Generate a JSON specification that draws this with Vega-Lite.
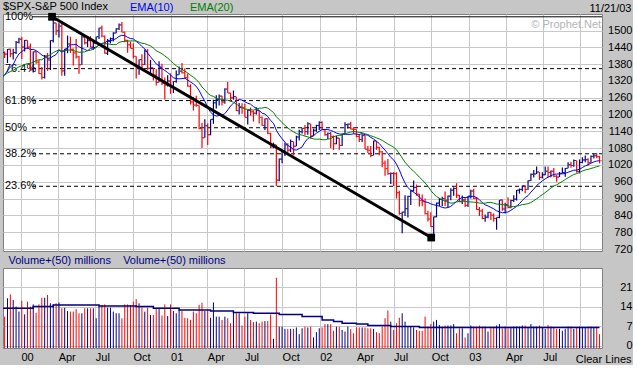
{
"$schema": "https://vega.github.io/schema/vega-lite/v6.json",
"background": "#c6c6c6",
"padding": {"left": 2, "top": 1, "right": 0, "bottom": 0},
"spacing": 1,
"config": {
 "font": "Liberation Sans",
 "view": {"fill": "white", "stroke": "#808080", "strokeWidth": 1},
 "axis": {"gridColor": "#c8c8c8", "gridOpacity": 1, "gridWidth": 1, "labelFont": "Liberation Sans", "labelFontSize": 11, "labelColor": "black", "tickSize": 0, "ticks": false, "domain": false, "titleFont": "Liberation Sans", "titleFontSize": 11, "titleFontWeight": "normal", "titleColor": "black", "labelOverlap": false}
},
"datasets": {
 "fib": [{"lvl":"100%","p":1549},{"lvl":"76.4%","p":1364},{"lvl":"61.8%","p":1250},{"lvl":"50%","p":1153},{"lvl":"38.2%","p":1060},{"lvl":"23.6%","p":944}],
 "trend": [{"d":"2000-03-17","p":1549},{"d":"2002-10-01","p":761}],
 "w": [
{"d":"1999-09-06","o":1357,"h":1361,"l":1332,"c":1351,"v":10,"va":13.5},
{"d":"1999-09-13","o":1351,"h":1352,"l":1326,"c":1336,"v":10,"va":13.5},
{"d":"1999-09-20","o":1336,"h":1336,"l":1263,"c":1277,"v":10,"va":13.5},
{"d":"1999-09-27","o":1277,"h":1301,"l":1268,"c":1282,"v":10,"va":13.5},
{"d":"1999-10-04","o":1282,"h":1336,"l":1282,"c":1336,"v":10,"va":13.5},
{"d":"1999-10-11","o":1336,"h":1337,"l":1247,"c":1247,"v":10,"va":13.5},
{"d":"1999-10-18","o":1247,"h":1301,"l":1233,"c":1301,"v":10,"va":13.5},
{"d":"1999-10-25","o":1301,"h":1362,"l":1297,"c":1362,"v":10,"va":13.5},
{"d":"1999-11-01","o":1362,"h":1385,"l":1355,"c":1370,"v":10,"va":13.5},
{"d":"1999-11-08","o":1370,"h":1397,"l":1360,"c":1397,"v":10,"va":13.5},
{"d":"1999-11-15","o":1397,"h":1427,"l":1390,"c":1422,"v":10,"va":13.5},
{"d":"1999-11-22","o":1422,"h":1425,"l":1402,"c":1416,"v":10.5,"va":13.5},
{"d":"1999-11-29","o":1416,"h":1434,"l":1384,"c":1433,"v":17.1,"va":13.5},
{"d":"1999-12-06","o":1433,"h":1436,"l":1405,"c":1417,"v":18.5,"va":13.5},
{"d":"1999-12-13","o":1417,"h":1435,"l":1397,"c":1421,"v":16.5,"va":13.5},
{"d":"1999-12-20","o":1421,"h":1463,"l":1416,"c":1458,"v":14.1,"va":13.5},
{"d":"1999-12-27","o":1458,"h":1474,"l":1454,"c":1469,"v":12.3,"va":13.5},
{"d":"2000-01-03","o":1469,"h":1478,"l":1398,"c":1441,"v":16.2,"va":13.5},
{"d":"2000-01-10","o":1441,"h":1466,"l":1425,"c":1465,"v":11.3,"va":13.5},
{"d":"2000-01-17","o":1465,"h":1465,"l":1434,"c":1441,"v":15.9,"va":13.5},
{"d":"2000-01-24","o":1441,"h":1454,"l":1356,"c":1360,"v":14.1,"va":13.5},
{"d":"2000-01-31","o":1360,"h":1425,"l":1350,"c":1424,"v":14.9,"va":14.1},
{"d":"2000-02-07","o":1424,"h":1427,"l":1381,"c":1387,"v":11.9,"va":14.1},
{"d":"2000-02-14","o":1387,"h":1395,"l":1345,"c":1346,"v":14.9,"va":14.1},
{"d":"2000-02-21","o":1346,"h":1370,"l":1325,"c":1333,"v":17.3,"va":14.1},
{"d":"2000-02-28","o":1333,"h":1413,"l":1329,"c":1409,"v":17.3,"va":14.1},
{"d":"2000-03-06","o":1409,"h":1420,"l":1356,"c":1395,"v":18.3,"va":14.1},
{"d":"2000-03-13","o":1395,"h":1465,"l":1359,"c":1464,"v":15.3,"va":14.1},
{"d":"2000-03-20","o":1464,"h":1553,"l":1457,"c":1527,"v":14.9,"va":14.7},
{"d":"2000-03-27","o":1527,"h":1528,"l":1484,"c":1499,"v":15.3,"va":14.7},
{"d":"2000-04-03","o":1499,"h":1526,"l":1475,"c":1516,"v":15.6,"va":14.7},
{"d":"2000-04-10","o":1516,"h":1527,"l":1339,"c":1356,"v":13.5,"va":14.7},
{"d":"2000-04-17","o":1356,"h":1435,"l":1339,"c":1434,"v":13.7,"va":14.7},
{"d":"2000-04-24","o":1434,"h":1482,"l":1419,"c":1452,"v":12.5,"va":14.7},
{"d":"2000-05-01","o":1452,"h":1478,"l":1420,"c":1433,"v":12.3,"va":14.7},
{"d":"2000-05-08","o":1433,"h":1436,"l":1375,"c":1420,"v":12.3,"va":14.7},
{"d":"2000-05-15","o":1420,"h":1470,"l":1400,"c":1406,"v":13.2,"va":14.7},
{"d":"2000-05-22","o":1406,"h":1410,"l":1346,"c":1378,"v":11.7,"va":14.7},
{"d":"2000-05-29","o":1378,"h":1483,"l":1378,"c":1477,"v":11.7,"va":14.7},
{"d":"2000-06-05","o":1477,"h":1481,"l":1450,"c":1456,"v":13.5,"va":14.7},
{"d":"2000-06-12","o":1456,"h":1480,"l":1441,"c":1464,"v":13.5,"va":14.7},
{"d":"2000-06-19","o":1464,"h":1480,"l":1440,"c":1441,"v":13.5,"va":14.7},
{"d":"2000-06-26","o":1441,"h":1464,"l":1431,"c":1455,"v":13.5,"va":14.7},
{"d":"2000-07-03","o":1455,"h":1478,"l":1454,"c":1478,"v":9.9,"va":14.7},
{"d":"2000-07-10","o":1478,"h":1510,"l":1470,"c":1509,"v":14.3,"va":14.3},
{"d":"2000-07-17","o":1509,"h":1518,"l":1476,"c":1480,"v":14.7,"va":14.3},
{"d":"2000-07-24","o":1480,"h":1482,"l":1417,"c":1419,"v":14.9,"va":14.3},
{"d":"2000-07-31","o":1419,"h":1470,"l":1413,"c":1462,"v":13.7,"va":14.3},
{"d":"2000-08-07","o":1462,"h":1475,"l":1454,"c":1471,"v":13.7,"va":14.3},
{"d":"2000-08-14","o":1471,"h":1494,"l":1461,"c":1491,"v":12.3,"va":14.3},
{"d":"2000-08-21","o":1491,"h":1508,"l":1490,"c":1506,"v":11.7,"va":14.3},
{"d":"2000-08-28","o":1506,"h":1525,"l":1502,"c":1520,"v":11.7,"va":14.3},
{"d":"2000-09-04","o":1520,"h":1530,"l":1493,"c":1494,"v":9.9,"va":14.3},
{"d":"2000-09-11","o":1494,"h":1496,"l":1458,"c":1465,"v":14.9,"va":14.3},
{"d":"2000-09-18","o":1465,"h":1467,"l":1421,"c":1449,"v":14.9,"va":14.3},
{"d":"2000-09-25","o":1449,"h":1461,"l":1436,"c":1436,"v":14.7,"va":14.3},
{"d":"2000-10-02","o":1436,"h":1455,"l":1400,"c":1408,"v":15.9,"va":14.3},
{"d":"2000-10-09","o":1408,"h":1408,"l":1329,"c":1374,"v":16.8,"va":14.1},
{"d":"2000-10-16","o":1374,"h":1397,"l":1342,"c":1396,"v":15.3,"va":14.1},
{"d":"2000-10-23","o":1396,"h":1415,"l":1361,"c":1379,"v":13.8,"va":14.1},
{"d":"2000-10-30","o":1379,"h":1432,"l":1377,"c":1426,"v":12.3,"va":14.1},
{"d":"2000-11-06","o":1426,"h":1434,"l":1360,"c":1365,"v":13.7,"va":14.1},
{"d":"2000-11-13","o":1365,"h":1395,"l":1345,"c":1367,"v":11.1,"va":14.1},
{"d":"2000-11-20","o":1367,"h":1367,"l":1322,"c":1341,"v":11.1,"va":13.5},
{"d":"2000-11-27","o":1341,"h":1362,"l":1304,"c":1315,"v":13.2,"va":13.5},
{"d":"2000-12-04","o":1315,"h":1390,"l":1315,"c":1369,"v":13.2,"va":13.5},
{"d":"2000-12-11","o":1369,"h":1381,"l":1306,"c":1312,"v":10.9,"va":13.5},
{"d":"2000-12-18","o":1312,"h":1332,"l":1254,"c":1305,"v":14.9,"va":13.5},
{"d":"2000-12-25","o":1305,"h":1340,"l":1300,"c":1320,"v":10.7,"va":13.5},
{"d":"2001-01-01","o":1320,"h":1347,"l":1274,"c":1298,"v":14.9,"va":13.5},
{"d":"2001-01-08","o":1298,"h":1319,"l":1277,"c":1318,"v":12.5,"va":13.5},
{"d":"2001-01-15","o":1318,"h":1357,"l":1314,"c":1342,"v":11.7,"va":13.5},
{"d":"2001-01-22","o":1342,"h":1372,"l":1342,"c":1355,"v":12.9,"va":12.9},
{"d":"2001-01-29","o":1355,"h":1384,"l":1347,"c":1349,"v":12.5,"va":12.9},
{"d":"2001-02-05","o":1349,"h":1365,"l":1327,"c":1332,"v":10.1,"va":12.9},
{"d":"2001-02-12","o":1332,"h":1347,"l":1299,"c":1301,"v":9.9,"va":12.9},
{"d":"2001-02-19","o":1301,"h":1308,"l":1236,"c":1245,"v":9.3,"va":12.9},
{"d":"2001-02-26","o":1245,"h":1263,"l":1214,"c":1234,"v":12.3,"va":12.9},
{"d":"2001-03-05","o":1234,"h":1267,"l":1228,"c":1233,"v":11.7,"va":12.9},
{"d":"2001-03-12","o":1233,"h":1233,"l":1148,"c":1150,"v":14.7,"va":12.9},
{"d":"2001-03-19","o":1150,"h":1171,"l":1081,"c":1117,"v":15.5,"va":12.9},
{"d":"2001-03-26","o":1117,"h":1183,"l":1117,"c":1160,"v":12.5,"va":12.9},
{"d":"2001-04-02","o":1160,"h":1169,"l":1091,"c":1128,"v":12.9,"va":12.9},
{"d":"2001-04-09","o":1128,"h":1183,"l":1126,"c":1183,"v":10.1,"va":12.5},
{"d":"2001-04-16","o":1183,"h":1253,"l":1167,"c":1242,"v":15.6,"va":12.5},
{"d":"2001-04-23","o":1242,"h":1269,"l":1222,"c":1253,"v":10.5,"va":12.5},
{"d":"2001-04-30","o":1253,"h":1272,"l":1232,"c":1266,"v":10.5,"va":12.5},
{"d":"2001-05-07","o":1266,"h":1267,"l":1232,"c":1245,"v":9.3,"va":12.5},
{"d":"2001-05-14","o":1245,"h":1294,"l":1239,"c":1291,"v":10.5,"va":12.5},
{"d":"2001-05-21","o":1291,"h":1316,"l":1276,"c":1277,"v":9.9,"va":12.5},
{"d":"2001-05-28","o":1277,"h":1278,"l":1246,"c":1260,"v":8.1,"va":12.5},
{"d":"2001-06-04","o":1260,"h":1286,"l":1253,"c":1264,"v":12.3,"va":12.0},
{"d":"2001-06-11","o":1264,"h":1264,"l":1213,"c":1214,"v":11.7,"va":12.0},
{"d":"2001-06-18","o":1214,"h":1241,"l":1200,"c":1225,"v":11.7,"va":12.0},
{"d":"2001-06-25","o":1225,"h":1240,"l":1203,"c":1224,"v":7.3,"va":12.0},
{"d":"2001-07-02","o":1224,"h":1239,"l":1190,"c":1190,"v":10.5,"va":12.0},
{"d":"2001-07-09","o":1190,"h":1218,"l":1165,"c":1215,"v":11.7,"va":12.0},
{"d":"2001-07-16","o":1215,"h":1225,"l":1196,"c":1210,"v":9.3,"va":12.0},
{"d":"2001-07-23","o":1210,"h":1215,"l":1175,"c":1205,"v":8.5,"va":11.7},
{"d":"2001-07-30","o":1205,"h":1226,"l":1200,"c":1214,"v":8.7,"va":11.7},
{"d":"2001-08-06","o":1214,"h":1214,"l":1168,"c":1190,"v":8.1,"va":11.7},
{"d":"2001-08-13","o":1190,"h":1193,"l":1160,"c":1161,"v":8.7,"va":11.7},
{"d":"2001-08-20","o":1161,"h":1186,"l":1145,"c":1185,"v":8.9,"va":11.7},
{"d":"2001-08-27","o":1185,"h":1186,"l":1130,"c":1133,"v":8.9,"va":11.7},
{"d":"2001-09-03","o":1133,"h":1135,"l":1080,"c":1085,"v":11.3,"va":11.7},
{"d":"2001-09-10","o":1085,"h":1100,"l":1080,"c":1092,"v":2.5,"va":11.7},
{"d":"2001-09-17","o":1092,"h":1092,"l":945,"c":966,"v":24.5,"va":11.7},
{"d":"2001-09-24","o":966,"h":1043,"l":962,"c":1041,"v":6.9,"va":11.3},
{"d":"2001-10-01","o":1041,"h":1076,"l":1026,"c":1072,"v":6.9,"va":11.3},
{"d":"2001-10-08","o":1072,"h":1099,"l":1052,"c":1092,"v":6.1,"va":11.3},
{"d":"2001-10-15","o":1092,"h":1098,"l":1064,"c":1073,"v":6.1,"va":11.3},
{"d":"2001-10-22","o":1073,"h":1111,"l":1066,"c":1104,"v":6.1,"va":11.3},
{"d":"2001-10-29","o":1104,"h":1104,"l":1054,"c":1087,"v":6.1,"va":11.3},
{"d":"2001-11-05","o":1087,"h":1124,"l":1087,"c":1120,"v":6.6,"va":11.3},
{"d":"2001-11-12","o":1120,"h":1146,"l":1107,"c":1139,"v":4.2,"va":11.3},
{"d":"2001-11-19","o":1139,"h":1152,"l":1132,"c":1151,"v":6.3,"va":10.5},
{"d":"2001-11-26","o":1151,"h":1163,"l":1125,"c":1139,"v":6.9,"va":10.5},
{"d":"2001-12-03","o":1139,"h":1173,"l":1128,"c":1167,"v":6.6,"va":10.5},
{"d":"2001-12-10","o":1167,"h":1167,"l":1114,"c":1123,"v":6.9,"va":10.5},
{"d":"2001-12-17","o":1123,"h":1150,"l":1123,"c":1144,"v":3.0,"va":10.5},
{"d":"2001-12-24","o":1144,"h":1164,"l":1139,"c":1161,"v":4.9,"va":10.5},
{"d":"2001-12-31","o":1161,"h":1176,"l":1145,"c":1172,"v":6.3,"va":10.5},
{"d":"2002-01-07","o":1172,"h":1176,"l":1145,"c":1146,"v":6.6,"va":9.3},
{"d":"2002-01-14","o":1146,"h":1146,"l":1124,"c":1128,"v":7.8,"va":9.3},
{"d":"2002-01-21","o":1128,"h":1136,"l":1113,"c":1133,"v":7.8,"va":9.3},
{"d":"2002-01-28","o":1133,"h":1138,"l":1081,"c":1122,"v":7.8,"va":9.3},
{"d":"2002-02-04","o":1122,"h":1125,"l":1074,"c":1096,"v":5.4,"va":8.7},
{"d":"2002-02-11","o":1096,"h":1124,"l":1094,"c":1116,"v":6.9,"va":8.7},
{"d":"2002-02-18","o":1116,"h":1117,"l":1074,"c":1090,"v":6.9,"va":8.7},
{"d":"2002-02-25","o":1090,"h":1132,"l":1088,"c":1131,"v":5.7,"va":8.1},
{"d":"2002-03-04","o":1131,"h":1173,"l":1130,"c":1164,"v":5.1,"va":8.1},
{"d":"2002-03-11","o":1164,"h":1168,"l":1150,"c":1166,"v":6.9,"va":8.1},
{"d":"2002-03-18","o":1166,"h":1174,"l":1147,"c":1148,"v":6.0,"va":8.1},
{"d":"2002-03-25","o":1148,"h":1155,"l":1131,"c":1147,"v":4.5,"va":8.1},
{"d":"2002-04-01","o":1147,"h":1147,"l":1119,"c":1122,"v":6.6,"va":7.8},
{"d":"2002-04-08","o":1122,"h":1131,"l":1102,"c":1111,"v":6.6,"va":7.8},
{"d":"2002-04-15","o":1111,"h":1130,"l":1102,"c":1125,"v":6.6,"va":7.8},
{"d":"2002-04-22","o":1125,"h":1125,"l":1076,"c":1076,"v":6.6,"va":7.8},
{"d":"2002-04-29","o":1076,"h":1089,"l":1063,"c":1073,"v":6.3,"va":7.3},
{"d":"2002-05-06","o":1073,"h":1088,"l":1048,"c":1054,"v":6.3,"va":7.3},
{"d":"2002-05-13","o":1054,"h":1107,"l":1054,"c":1106,"v":6.1,"va":7.3},
{"d":"2002-05-20","o":1106,"h":1106,"l":1074,"c":1083,"v":4.9,"va":7.3},
{"d":"2002-05-27","o":1083,"h":1085,"l":1055,"c":1067,"v":4.5,"va":7.3},
{"d":"2002-06-03","o":1067,"h":1070,"l":1012,"c":1027,"v":6.9,"va":7.3},
{"d":"2002-06-10","o":1027,"h":1036,"l":982,"c":1007,"v":9.9,"va":7.3},
{"d":"2002-06-17","o":1007,"h":1041,"l":985,"c":989,"v":12.7,"va":7.3},
{"d":"2002-06-24","o":989,"h":993,"l":952,"c":990,"v":8.7,"va":6.9},
{"d":"2002-07-01","o":990,"h":995,"l":945,"c":989,"v":5.7,"va":6.9},
{"d":"2002-07-08","o":989,"h":994,"l":900,"c":921,"v":8.1,"va":6.9},
{"d":"2002-07-15","o":921,"h":928,"l":842,"c":847,"v":10.1,"va":6.9},
{"d":"2002-07-22","o":847,"h":853,"l":776,"c":852,"v":11.7,"va":6.9},
{"d":"2002-07-29","o":852,"h":912,"l":838,"c":864,"v":8.7,"va":6.9},
{"d":"2002-08-05","o":864,"h":910,"l":833,"c":908,"v":6.9,"va":6.9},
{"d":"2002-08-12","o":908,"h":932,"l":877,"c":928,"v":6.9,"va":6.9},
{"d":"2002-08-19","o":928,"h":965,"l":925,"c":940,"v":6.6,"va":6.9},
{"d":"2002-08-26","o":940,"h":950,"l":910,"c":916,"v":5.7,"va":6.9},
{"d":"2002-09-02","o":916,"h":917,"l":872,"c":893,"v":5.4,"va":6.6},
{"d":"2002-09-09","o":893,"h":915,"l":873,"c":889,"v":5.4,"va":6.6},
{"d":"2002-09-16","o":889,"h":900,"l":843,"c":846,"v":10.5,"va":6.6},
{"d":"2002-09-23","o":846,"h":857,"l":818,"c":827,"v":6.9,"va":6.6},
{"d":"2002-09-30","o":827,"h":851,"l":799,"c":800,"v":7.8,"va":6.6},
{"d":"2002-10-07","o":800,"h":836,"l":769,"c":835,"v":8.7,"va":6.6},
{"d":"2002-10-14","o":835,"h":886,"l":833,"c":884,"v":9.3,"va":6.6},
{"d":"2002-10-21","o":884,"h":902,"l":874,"c":897,"v":7.5,"va":6.6},
{"d":"2002-10-28","o":897,"h":907,"l":873,"c":900,"v":6.9,"va":6.6},
{"d":"2002-11-04","o":900,"h":925,"l":874,"c":894,"v":7.3,"va":6.6},
{"d":"2002-11-11","o":894,"h":911,"l":868,"c":909,"v":7.3,"va":6.6},
{"d":"2002-11-18","o":909,"h":937,"l":894,"c":930,"v":7.3,"va":6.6},
{"d":"2002-11-25","o":930,"h":941,"l":910,"c":936,"v":7.8,"va":6.6},
{"d":"2002-12-02","o":936,"h":955,"l":902,"c":912,"v":4.5,"va":6.6},
{"d":"2002-12-09","o":912,"h":913,"l":887,"c":889,"v":6.3,"va":6.6},
{"d":"2002-12-16","o":889,"h":911,"l":881,"c":895,"v":6.3,"va":6.6},
{"d":"2002-12-23","o":895,"h":902,"l":870,"c":876,"v":3.0,"va":6.6},
{"d":"2002-12-30","o":876,"h":909,"l":870,"c":909,"v":4.5,"va":6.6},
{"d":"2003-01-06","o":909,"h":932,"l":900,"c":927,"v":7.3,"va":6.6},
{"d":"2003-01-13","o":927,"h":935,"l":899,"c":901,"v":6.9,"va":6.6},
{"d":"2003-01-20","o":901,"h":906,"l":860,"c":861,"v":6.9,"va":6.6},
{"d":"2003-01-27","o":861,"h":870,"l":838,"c":856,"v":7.3,"va":6.6},
{"d":"2003-02-03","o":856,"h":864,"l":826,"c":829,"v":6.9,"va":6.6},
{"d":"2003-02-10","o":829,"h":843,"l":817,"c":834,"v":6.9,"va":6.6},
{"d":"2003-02-17","o":834,"h":852,"l":830,"c":851,"v":5.1,"va":6.6},
{"d":"2003-02-24","o":851,"h":852,"l":824,"c":841,"v":6.9,"va":6.6},
{"d":"2003-03-03","o":841,"h":847,"l":817,"c":829,"v":6.9,"va":6.6},
{"d":"2003-03-10","o":829,"h":833,"l":789,"c":833,"v":7.3,"va":6.6},
{"d":"2003-03-17","o":833,"h":895,"l":830,"c":895,"v":7.8,"va":6.6},
{"d":"2003-03-24","o":895,"h":897,"l":857,"c":863,"v":6.3,"va":6.6},
{"d":"2003-03-31","o":863,"h":885,"l":847,"c":878,"v":6.9,"va":6.6},
{"d":"2003-04-07","o":878,"h":905,"l":865,"c":868,"v":6.3,"va":6.6},
{"d":"2003-04-14","o":868,"h":896,"l":866,"c":893,"v":6.6,"va":6.6},
{"d":"2003-04-21","o":893,"h":912,"l":888,"c":898,"v":6.9,"va":6.6},
{"d":"2003-04-28","o":898,"h":931,"l":893,"c":930,"v":6.9,"va":6.6},
{"d":"2003-05-05","o":930,"h":936,"l":918,"c":933,"v":6.9,"va":6.6},
{"d":"2003-05-12","o":933,"h":947,"l":926,"c":946,"v":7.3,"va":6.6},
{"d":"2003-05-19","o":946,"h":946,"l":919,"c":933,"v":7.3,"va":6.6},
{"d":"2003-05-26","o":933,"h":965,"l":932,"c":964,"v":6.6,"va":6.6},
{"d":"2003-06-02","o":964,"h":990,"l":963,"c":987,"v":7.8,"va":6.6},
{"d":"2003-06-09","o":987,"h":1002,"l":975,"c":988,"v":6.9,"va":6.6},
{"d":"2003-06-16","o":988,"h":1015,"l":988,"c":995,"v":6.9,"va":6.6},
{"d":"2003-06-23","o":995,"h":995,"l":967,"c":976,"v":7.3,"va":6.6},
{"d":"2003-06-30","o":976,"h":994,"l":972,"c":985,"v":6.6,"va":6.6},
{"d":"2003-07-07","o":985,"h":1015,"l":983,"c":998,"v":6.1,"va":6.6},
{"d":"2003-07-14","o":998,"h":1015,"l":975,"c":993,"v":7.5,"va":6.6},
{"d":"2003-07-21","o":993,"h":1000,"l":976,"c":998,"v":6.9,"va":6.6},
{"d":"2003-07-28","o":998,"h":1009,"l":976,"c":980,"v":6.6,"va":6.6},
{"d":"2003-08-04","o":980,"h":984,"l":960,"c":977,"v":6.1,"va":6.6},
{"d":"2003-08-11","o":977,"h":995,"l":977,"c":990,"v":6.1,"va":6.6},
{"d":"2003-08-18","o":990,"h":1011,"l":990,"c":993,"v":5.4,"va":6.6},
{"d":"2003-08-25","o":993,"h":1009,"l":978,"c":1008,"v":6.1,"va":6.6},
{"d":"2003-09-01","o":1008,"h":1030,"l":1008,"c":1021,"v":6.9,"va":6.6},
{"d":"2003-09-08","o":1021,"h":1032,"l":1010,"c":1018,"v":6.9,"va":6.6},
{"d":"2003-09-15","o":1018,"h":1040,"l":1014,"c":1036,"v":6.1,"va":6.6},
{"d":"2003-09-22","o":1036,"h":1036,"l":992,"c":997,"v":6.6,"va":6.6},
{"d":"2003-09-29","o":997,"h":1040,"l":990,"c":1029,"v":6.9,"va":6.6},
{"d":"2003-10-06","o":1029,"h":1048,"l":1026,"c":1038,"v":6.6,"va":6.6},
{"d":"2003-10-13","o":1038,"h":1054,"l":1030,"c":1039,"v":6.6,"va":6.6},
{"d":"2003-10-20","o":1039,"h":1044,"l":1018,"c":1028,"v":6.9,"va":6.6},
{"d":"2003-10-27","o":1028,"h":1054,"l":1028,"c":1051,"v":6.9,"va":6.6},
{"d":"2003-11-03","o":1051,"h":1061,"l":1043,"c":1053,"v":6.6,"va":6.6},
{"d":"2003-11-10","o":1053,"h":1063,"l":1044,"c":1050,"v":6.9,"va":6.6},
{"d":"2003-11-17","o":1050,"h":1052,"l":1026,"c":1035,"v":4.2,"va":6.6}
 ]
},
"vconcat": [
 {
  "width": 599,
  "height": 237,
  "layer": [
   {
    "data": {"name": "fib"},
    "mark": {"type": "rule", "color": "black", "strokeWidth": 1},
    "encoding": {
     "x": {"datum": {"year": 2000, "month": 1, "date": 28, "utc": true}, "type": "temporal",
       "scale": {"domain": [{"year": 1999, "month": 11, "date": 18, "utc": true}, {"year": 2003, "month": 11, "date": 23, "utc": true}]},
       "axis": {"labels": false, "grid": true, "tickCount": {"interval": "month", "step": 3}, "labelPadding": 0, "minExtent": 0, "maxExtent": 0,
         "title": "Volume+(50) millions\u00a0\u00a0\u00a0\u00a0Volume+(50) millions", "titleColor": "#000080", "titleX": 5, "titleY": 12, "titleAlign": "left", "titleAnchor": "start", "titleBaseline": "alphabetic"}},
     "x2": {"datum": {"year": 2003, "month": 11, "date": 23, "utc": true}},
     "y": {"field": "p", "type": "quantitative",
       "scale": {"domain": [713, 1559], "nice": false, "zero": false},
       "axis": {"orient": "right", "values": [720,780,840,900,960,1020,1080,1140,1200,1260,1320,1380,1440,1500], "tickCount": 30, "format": "d", "grid": true, "labelAlign": "right", "labelPadding": 30, "labelBaseline": "middle", "labelOverlap": false, "labelBound": false,
         "title": "11/21/03", "titleAngle": 0, "titleAlign": "right", "titleBaseline": "alphabetic", "titleX": 29, "titleY": -3}},
     "strokeDash": {"condition": {"test": "datum.lvl == '100%'", "value": [1, 0]}, "value": [4, 3]}
    }
   },
   {
    "data": {"name": "fib"},
    "mark": {"type": "text", "align": "left", "baseline": "middle", "dx": 2, "fontSize": 11, "color": "black"},
    "encoding": {
     "x": {"datum": {"year": 1999, "month": 11, "date": 18, "utc": true}, "type": "temporal"},
     "y": {"field": "p", "type": "quantitative"},
     "text": {"field": "lvl"}
    }
   },
   {
    "data": {"name": "w"},
    "mark": {"type": "rule", "strokeWidth": 1.2, "clip": true},
    "encoding": {
     "x": {"field": "d", "type": "temporal"},
     "y": {"field": "l", "type": "quantitative"},
     "y2": {"field": "h"},
     "color": {"condition": {"test": "datum.c < datum.o", "value": "#ff0000"}, "value": "#000080"}
    }
   },
   {
    "data": {"name": "w"},
    "mark": {"type": "tick", "orient": "horizontal", "size": 2, "thickness": 1, "xOffset": -1.5, "clip": true},
    "encoding": {
     "x": {"field": "d", "type": "temporal"},
     "y": {"field": "o", "type": "quantitative"},
     "color": {"condition": {"test": "datum.c < datum.o", "value": "#ff0000"}, "value": "#000080"}
    }
   },
   {
    "data": {"name": "w"},
    "mark": {"type": "tick", "orient": "horizontal", "size": 2, "thickness": 1, "xOffset": 1.5, "clip": true},
    "encoding": {
     "x": {"field": "d", "type": "temporal"},
     "y": {"field": "c", "type": "quantitative"},
     "color": {"condition": {"test": "datum.c < datum.o", "value": "#ff0000"}, "value": "#000080"}
    }
   },
   {
    "data": {"name": "w"},
    "transform": [
     {"window": [{"op": "mean", "field": "c", "as": "e10"}], "frame": [-9, 0], "sort": [{"field": "d"}]},
     {"window": [{"op": "mean", "field": "c", "as": "e20"}], "frame": [-19, 0], "sort": [{"field": "d"}]},
     {"fold": ["e10", "e20"], "as": ["k", "m"]}
    ],
    "mark": {"type": "line", "strokeWidth": 1, "clip": true},
    "encoding": {
     "x": {"field": "d", "type": "temporal"},
     "y": {"field": "m", "type": "quantitative"},
     "color": {"field": "k", "type": "nominal",
       "scale": {"domain": ["e10", "e20"], "range": ["#0000ff", "#008000"]},
       "legend": {"orient": "none", "legendX": 0, "legendY": -12, "direction": "horizontal",
         "title": "$SPX-S&P 500 Index", "titleOrient": "left", "titleFontSize": 11, "titleFontWeight": "normal", "titleColor": "black", "titlePadding": 10,
         "labelFontSize": 11, "labelExpr": "datum.value == 'e10' ? 'EMA(10)' : 'EMA(20)'",
         "labelColor": {"expr": "datum.value == 'e10' ? '#0000ff' : '#008000'"},
         "symbolSize": 0, "symbolStrokeWidth": 0, "symbolOpacity": 0, "labelOffset": 0, "columnPadding": 5, "padding": 0}}
    }
   },
   {
    "data": {"name": "trend"},
    "mark": {"type": "line", "color": "black", "strokeWidth": 3},
    "encoding": {
     "x": {"field": "d", "type": "temporal"},
     "y": {"field": "p", "type": "quantitative"}
    }
   },
   {
    "data": {"name": "trend"},
    "mark": {"type": "square", "size": 60, "color": "black", "opacity": 1, "filled": true},
    "encoding": {
     "x": {"field": "d", "type": "temporal"},
     "y": {"field": "p", "type": "quantitative"}
    }
   },
   {
    "data": {"values": [{"t": "© Prophet.Net"}]},
    "mark": {"type": "text", "align": "right", "baseline": "middle", "fontSize": 11, "color": "#b4b4b4"},
    "encoding": {
     "x": {"datum": {"year": 2003, "month": 11, "date": 21, "utc": true}, "type": "temporal"},
     "y": {"datum": 1520, "type": "quantitative"},
     "text": {"field": "t"}
    }
   }
  ]
 },
 {
  "width": 599,
  "height": 80,
  "data": {"name": "w"},
  "layer": [
   {
    "mark": {"type": "rule", "strokeWidth": 1, "clip": true},
    "encoding": {
     "x": {"field": "d", "type": "temporal",
       "scale": {"domain": [{"year": 1999, "month": 11, "date": 18, "utc": true}, {"year": 2003, "month": 11, "date": 23, "utc": true}]},
       "axis": {"title": "Clear Lines", "grid": true, "tickCount": {"interval": "month", "step": 3}, "labelAlign": "left", "labelPadding": 3, "labelBaseline": "top",
         "labelExpr": "datum.value > datetime(2003, 8, 15) ? '' : (month(datum.value) == 0 ? timeFormat(datum.value, '%y') : timeFormat(datum.value, '%b'))",
         "labelFlush": false,
         "titleX": 628, "titleY": 14, "titleAlign": "right", "titleBaseline": "alphabetic", "titleAnchor": "end"}},
     "y": {"field": "v", "type": "quantitative",
       "scale": {"domain": [-0.8, 28], "nice": false, "zero": false},
       "axis": {"orient": "right", "values": [0, 7, 14, 21], "tickCount": 10, "grid": true, "labelAlign": "right", "labelPadding": 30, "labelBaseline": "middle", "labelOverlap": false, "labelBound": false, "title": null}},
     "y2": {"datum": -0.8},
     "color": {"condition": {"test": "datum.c < datum.o", "value": "#ff0000"}, "value": "#000080"}
    }
   },
   {
    "mark": {"type": "line", "color": "#000080", "strokeWidth": 1.5, "interpolate": "step-after", "clip": true},
    "encoding": {
     "x": {"field": "d", "type": "temporal"},
     "y": {"field": "va", "type": "quantitative"}
    }
   }
  ]
 }
]
}
